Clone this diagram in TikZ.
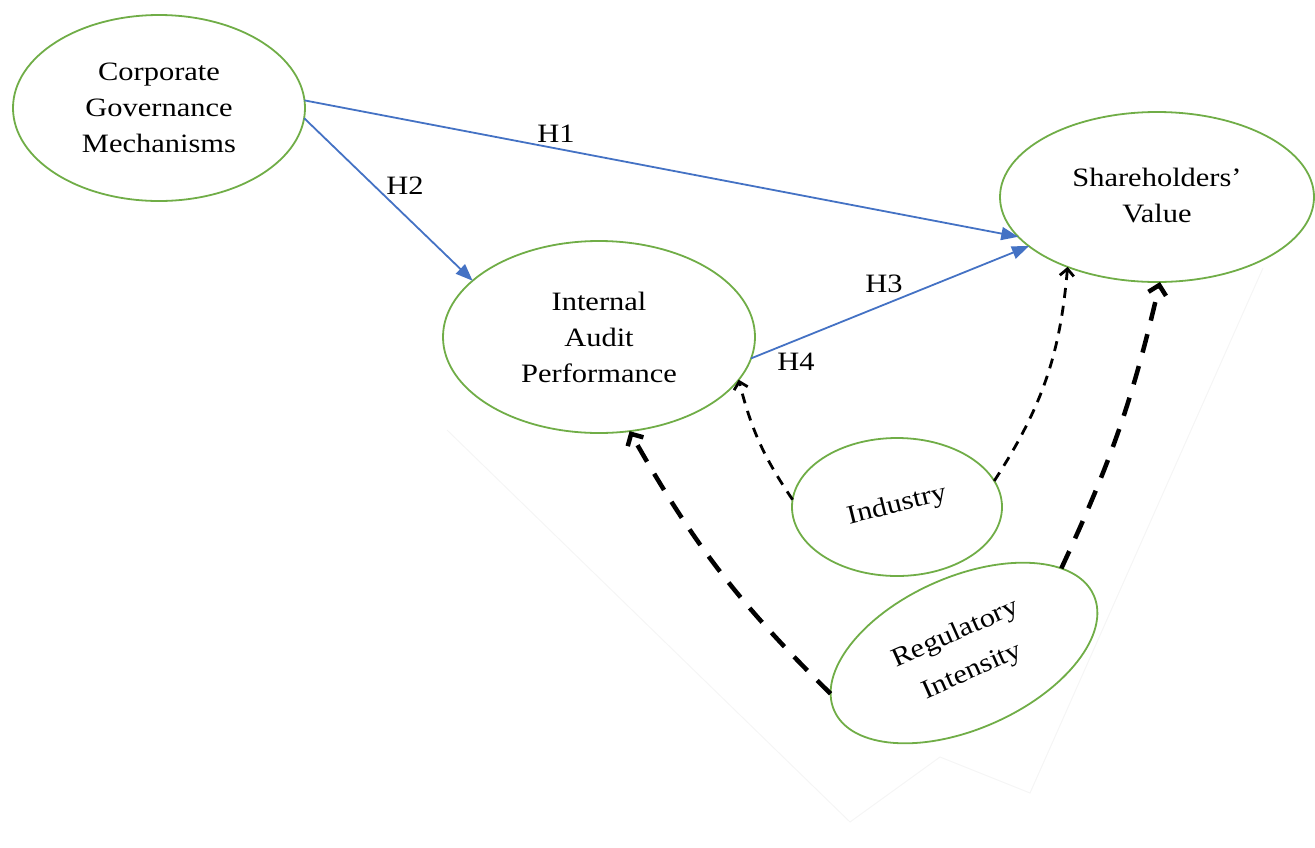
\documentclass[tikz,border=0pt]{standalone}
\usepackage{fontspec}
\setmainfont{Liberation Serif}[FakeStretch=1.15]
\usetikzlibrary{arrows.meta,shapes.geometric}
\definecolor{grn}{HTML}{70AD47}
\definecolor{blu}{HTML}{4472C4}
\begin{document}
\begin{tikzpicture}[x=1pt,y=1pt,
  ell/.style={ellipse, draw=grn, line width=1.8pt, inner sep=0pt, outer sep=0pt, align=center, text=black, font=\fontsize{26.5}{36}\selectfont},
  bluearrow/.style={draw=blu, line width=1.8pt, -{Triangle[length=17pt,width=13pt]}},
  modthin/.style={draw=black, line width=2.8pt, dash pattern=on 10pt off 8pt, -{Straight Barb[length=7pt,width=14pt]}},
  modthick/.style={draw=black, line width=4.5pt, dash pattern=on 19pt off 14pt, -{Straight Barb[length=9pt,width=18pt]}},
  hlab/.style={font=\fontsize{26.5}{30}\selectfont, inner sep=0pt, text=black},
  faint/.style={draw=black!4, line width=1pt}
]
\useasboundingbox (0,0) rectangle (1315,-847);
\draw[faint] (447,-430) -- (850,-822) -- (940,-757) -- (1030,-793) -- (1263,-268);

\node[ell, minimum width=292pt, minimum height=186pt] (cgm) at (159,-108) {Corporate\\Governance\\Mechanisms};
\node[ell, minimum width=314pt, minimum height=170pt] (sv) at (1157,-197) {\raisebox{9pt}{\begin{tabular}{@{}c@{}}Shareholders’\\Value\end{tabular}}};
\node[ell, minimum width=312pt, minimum height=192pt] (iap) at (599,-337) {Internal\\Audit\\Performance};
\node[ell, minimum width=210pt, minimum height=138pt] (ind) at (897,-507) {\raisebox{8pt}{\rotatebox{14}{Industry}}};
\node[ell, rotate=24, minimum width=284pt, minimum height=152pt, font=\fontsize{26.5}{41}\selectfont] (reg) at (964,-653) {Regulatory\\Intensity};

\draw[bluearrow] (cgm.3) -- (sv.196);
\draw[bluearrow] (cgm.-4) -- (iap.156);
\draw[bluearrow] (iap.-8) -- (sv.201);

\draw[modthin] (ind.176) to[bend left=10] (iap.-17);
\draw[modthin] (ind.15) to[bend right=14] (sv.218);
\draw[modthick] (reg.173) to[bend left=8] (iap.-72);
\draw[modthick] (reg.17) to[bend right=6] (sv.-88);

\node[hlab] (h1) at (556,-134) {H1};
\node[hlab] (h2) at (405,-186) {H2};
\node[hlab] (h3) at (884,-284) {H3};
\node[hlab] (h4) at (796,-362) {H4};
\end{tikzpicture}
\end{document}
